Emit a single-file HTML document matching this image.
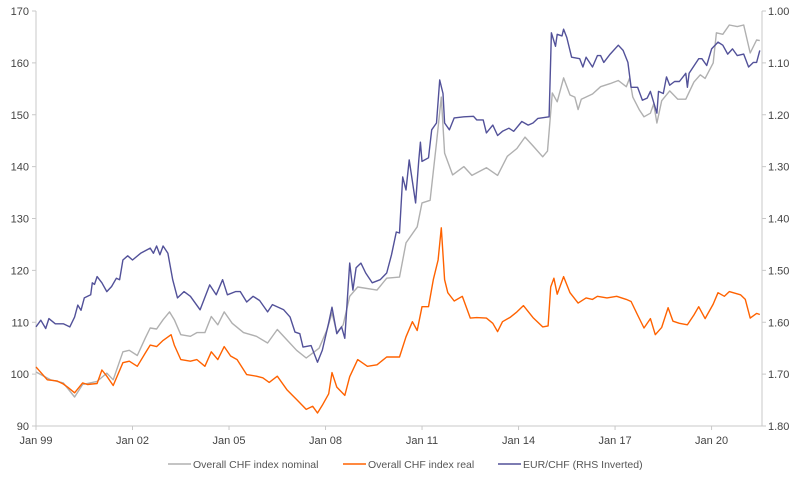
<!DOCTYPE html>
<html><head><meta charset="utf-8"><style>
body{margin:0;background:#fff;}
svg{display:block;font-family:"Liberation Sans",sans-serif;}
</style></head><body>
<svg id="chart" width="800" height="482" viewBox="0 0 800 482">
<g id="axes"></g>
<g id="series"></g>
<g id="legend"></g>
</svg>
<script>
const leftTicks=[90,100,110,120,130,140,150,160,170];
const rightTicks=[1.0,1.1,1.2,1.3,1.4,1.5,1.6,1.7,1.8];
const rightTickLabels=["1.00","1.10","1.20","1.30","1.40","1.50","1.60","1.70","1.80"];
const xTicks=[1999,2002,2005,2008,2011,2014,2017,2020];
const xTickLabels=["Jan 99","Jan 02","Jan 05","Jan 08","Jan 11","Jan 14","Jan 17","Jan 20"];

const nominalDates=[1999.0,1999.45,1999.85,2000.2,2000.45,2000.9,2001.2,2001.4,2001.7,2001.9,2002.15,2002.4,2002.55,2002.75,2002.95,2003.15,2003.3,2003.5,2003.8,2004.0,2004.25,2004.45,2004.65,2004.85,2005.1,2005.45,2005.85,2006.2,2006.5,2006.8,2007.1,2007.4,2007.65,2007.8,2008.05,2008.2,2008.35,2008.55,2008.75,2009.0,2009.6,2009.9,2010.3,2010.5,2010.85,2011.0,2011.25,2011.45,2011.6,2011.7,2011.95,2012.3,2012.55,2013.0,2013.35,2013.65,2013.95,2014.2,2014.45,2014.75,2014.9,2015.05,2015.2,2015.4,2015.6,2015.75,2015.85,2015.95,2016.3,2016.55,2016.85,2017.1,2017.35,2017.45,2017.55,2017.75,2017.9,2018.1,2018.2,2018.3,2018.45,2018.7,2018.95,2019.2,2019.45,2019.65,2019.8,2020.05,2020.15,2020.35,2020.55,2020.8,2021.0,2021.2,2021.4,2021.5];
const nominalValues=[100.4,98.9,98.3,95.6,98.0,98.6,100.2,98.9,104.3,104.6,103.6,107.0,108.9,108.7,110.5,112.0,110.5,107.6,107.3,108.0,108.0,111.1,109.5,112.0,109.8,108.0,107.3,106.0,108.6,106.6,104.6,103.1,104.3,105.0,108.6,111.8,108.0,109.5,115.0,116.8,116.2,118.5,118.7,125.3,128.4,133.0,133.5,144.6,153.4,142.6,138.4,140.0,138.3,139.8,138.3,142.0,143.5,145.7,144.0,141.9,143.0,154.2,152.5,157.1,153.8,153.4,151.0,153.0,154.0,155.4,156.0,156.6,155.4,157.0,153.4,151.0,149.6,150.3,152.1,148.4,152.7,154.6,153.0,153.0,156.3,157.7,157.0,160.0,165.8,165.5,167.3,167.0,167.3,161.9,164.4,164.3];

const realDates=[1999.0,1999.35,1999.65,1999.85,2000.0,2000.2,2000.45,2000.6,2000.9,2001.05,2001.2,2001.4,2001.7,2001.9,2002.15,2002.4,2002.55,2002.75,2002.95,2003.2,2003.3,2003.5,2003.8,2004.0,2004.25,2004.45,2004.65,2004.85,2005.05,2005.25,2005.55,2005.85,2006.05,2006.25,2006.5,2006.8,2007.1,2007.4,2007.6,2007.75,2007.9,2008.1,2008.2,2008.35,2008.6,2008.75,2009.0,2009.3,2009.6,2009.9,2010.3,2010.5,2010.7,2010.85,2011.0,2011.2,2011.35,2011.5,2011.6,2011.7,2011.8,2012.0,2012.25,2012.5,2012.7,2013.0,2013.2,2013.35,2013.5,2013.75,2013.95,2014.15,2014.45,2014.75,2014.92,2015.0,2015.1,2015.2,2015.4,2015.6,2015.85,2016.1,2016.3,2016.45,2016.75,2017.05,2017.35,2017.5,2017.7,2017.9,2018.1,2018.25,2018.45,2018.65,2018.8,2019.0,2019.25,2019.45,2019.6,2019.8,2020.05,2020.2,2020.4,2020.55,2020.9,2021.05,2021.2,2021.4,2021.5];
const realValues=[101.4,98.9,98.7,98.1,97.4,96.4,98.3,98.0,98.2,100.8,99.6,97.8,102.2,102.5,101.5,104.1,105.6,105.3,106.5,107.6,105.6,102.8,102.5,102.8,101.5,104.3,102.8,105.3,103.5,102.8,99.9,99.6,99.3,98.4,99.6,97.0,95.1,93.2,93.8,92.5,94.0,96.2,100.3,97.5,95.9,99.5,102.8,101.5,101.8,103.3,103.3,107.2,110.1,108.4,113.0,113.0,118.2,122.0,128.2,118.2,115.7,114.1,115.0,110.8,110.9,110.8,109.8,108.2,110.1,111.0,112.0,113.2,110.9,109.1,109.3,116.8,118.5,115.4,118.8,115.7,113.7,114.7,114.4,115.0,114.7,115.0,114.4,114.0,111.4,108.9,110.7,107.6,109.0,112.8,110.2,109.8,109.5,111.4,113.0,110.7,113.5,115.7,115.0,115.9,115.3,114.4,110.8,111.7,111.5];

const eurDates=[1999.0,1999.15,1999.3,1999.4,1999.6,1999.85,2000.05,2000.2,2000.3,2000.4,2000.5,2000.7,2000.75,2000.82,2000.9,2001.05,2001.2,2001.35,2001.5,2001.6,2001.7,2001.85,2002.0,2002.25,2002.55,2002.65,2002.75,2002.85,2002.95,2003.1,2003.25,2003.4,2003.6,2003.8,2004.1,2004.4,2004.6,2004.8,2004.95,2005.2,2005.35,2005.55,2005.75,2005.95,2006.2,2006.35,2006.7,2006.9,2007.05,2007.2,2007.3,2007.55,2007.75,2007.9,2008.1,2008.2,2008.35,2008.5,2008.6,2008.75,2008.85,2008.95,2009.1,2009.25,2009.45,2009.7,2009.9,2010.05,2010.2,2010.3,2010.4,2010.5,2010.6,2010.8,2010.9,2010.95,2011.0,2011.2,2011.3,2011.45,2011.55,2011.65,2011.7,2011.85,2012.0,2012.3,2012.6,2012.7,2012.9,2013.0,2013.2,2013.35,2013.5,2013.7,2013.85,2014.1,2014.3,2014.45,2014.6,2014.95,2015.02,2015.15,2015.2,2015.35,2015.4,2015.5,2015.65,2015.9,2016.0,2016.1,2016.3,2016.45,2016.55,2016.65,2016.85,2017.1,2017.25,2017.4,2017.5,2017.7,2017.85,2018.0,2018.1,2018.3,2018.35,2018.5,2018.6,2018.7,2018.85,2019.0,2019.2,2019.25,2019.3,2019.6,2019.7,2019.85,2020.0,2020.2,2020.35,2020.5,2020.65,2020.8,2021.0,2021.15,2021.3,2021.4,2021.5];
const eurValues=[1.609,1.596,1.612,1.593,1.603,1.603,1.609,1.590,1.567,1.577,1.553,1.547,1.524,1.527,1.512,1.524,1.541,1.531,1.515,1.518,1.480,1.472,1.480,1.467,1.457,1.467,1.453,1.470,1.453,1.467,1.518,1.553,1.541,1.550,1.576,1.528,1.547,1.518,1.547,1.541,1.541,1.561,1.550,1.558,1.580,1.566,1.576,1.590,1.619,1.622,1.648,1.645,1.677,1.654,1.601,1.571,1.622,1.609,1.631,1.486,1.538,1.495,1.486,1.505,1.524,1.518,1.505,1.470,1.426,1.428,1.320,1.345,1.287,1.370,1.287,1.253,1.290,1.283,1.229,1.216,1.133,1.159,1.216,1.229,1.206,1.204,1.203,1.210,1.210,1.235,1.220,1.240,1.232,1.226,1.232,1.213,1.220,1.216,1.207,1.204,1.042,1.068,1.045,1.048,1.035,1.051,1.089,1.092,1.108,1.089,1.108,1.086,1.086,1.099,1.083,1.066,1.076,1.099,1.147,1.147,1.172,1.168,1.155,1.197,1.155,1.159,1.127,1.143,1.136,1.136,1.120,1.147,1.120,1.092,1.092,1.105,1.073,1.060,1.066,1.083,1.073,1.086,1.083,1.108,1.099,1.099,1.076];

const X0=36,X1=762,Y0=426,Y1=11;
const xScale=d=>X0+(d-1999)*32.17;
const yLeft=v=>Y0-(v-90)/80*(Y0-Y1);
const yRight=v=>Y1+(v-1.0)/0.8*(Y0-Y1);
const NS="http://www.w3.org/2000/svg";
function mk(tag,attrs,parent){const e=document.createElementNS(NS,tag);for(const k in attrs)e.setAttribute(k,attrs[k]);parent.appendChild(e);return e;}
const axes=document.getElementById('axes');
let a=mk('line',{x1:X0,y1:Y1,x2:X0,y2:Y0,stroke:'#c8c8c8','stroke-width':1},axes);

a=mk('line',{x1:X1,y1:Y1,x2:X1,y2:Y0,stroke:'#c8c8c8','stroke-width':1},axes);

a=mk('line',{x1:X0,y1:Y0,x2:X1,y2:Y0,stroke:'#c8c8c8','stroke-width':1},axes);

leftTicks.forEach(v=>{const y=yLeft(v);
 const t=mk('line',{x1:X0-4,y1:y,x2:X0,y2:y,stroke:'#c8c8c8'},axes);
 
 const l=mk('text',{x:X0-7,y:y+4,'text-anchor':'end','font-size':11,fill:'#444'},axes);l.textContent=v;
 });
rightTicks.forEach((v,i)=>{const y=yRight(v);
 const t=mk('line',{x1:X1,y1:y,x2:X1+4,y2:y,stroke:'#c8c8c8'},axes);
 
 const l=mk('text',{x:X1+6,y:y+4,'font-size':11,fill:'#444'},axes);l.textContent=rightTickLabels[i];
 });
xTicks.forEach((d,i)=>{const x=xScale(d);
 const t=mk('line',{x1:x,y1:Y0,x2:x,y2:Y0+4,stroke:'#c8c8c8'},axes);
 
 const l=mk('text',{x:x,y:Y0+18,'text-anchor':'middle','font-size':11,fill:'#444'},axes);l.textContent=xTickLabels[i];
 });
const series=document.getElementById('series');
function draw(dates,vals,ys,color,name){
 const pts=dates.map((d,i)=>xScale(d).toFixed(1)+','+ys(vals[i]).toFixed(1)).join(' ');
 const p=mk('polyline',{points:pts,fill:'none',stroke:color,'stroke-width':1.4,'stroke-linejoin':'round'},series);
 }
draw(nominalDates,nominalValues,yLeft,'#b0b0b0','nominal-line');
draw(realDates,realValues,yLeft,'#ff6200','real-line');
draw(eurDates,eurValues,yRight,'#525199','eurchf-line');
const legend=document.getElementById('legend');
[[168,'#b0b0b0','Overall CHF index nominal','legend-nominal'],[343,'#ff6200','Overall CHF index real','legend-real'],[498,'#525199','EUR/CHF (RHS Inverted)','legend-eurchf']].forEach(e=>{
 const g=mk('g',{},legend);
 
 mk('line',{x1:e[0],y1:464,x2:e[0]+23,y2:464,stroke:e[1],'stroke-width':1.4},g);
 const t=mk('text',{x:e[0]+25,y:468,'font-size':10.5,fill:'#555'},g);t.textContent=e[2];});
</script>
</body></html>
